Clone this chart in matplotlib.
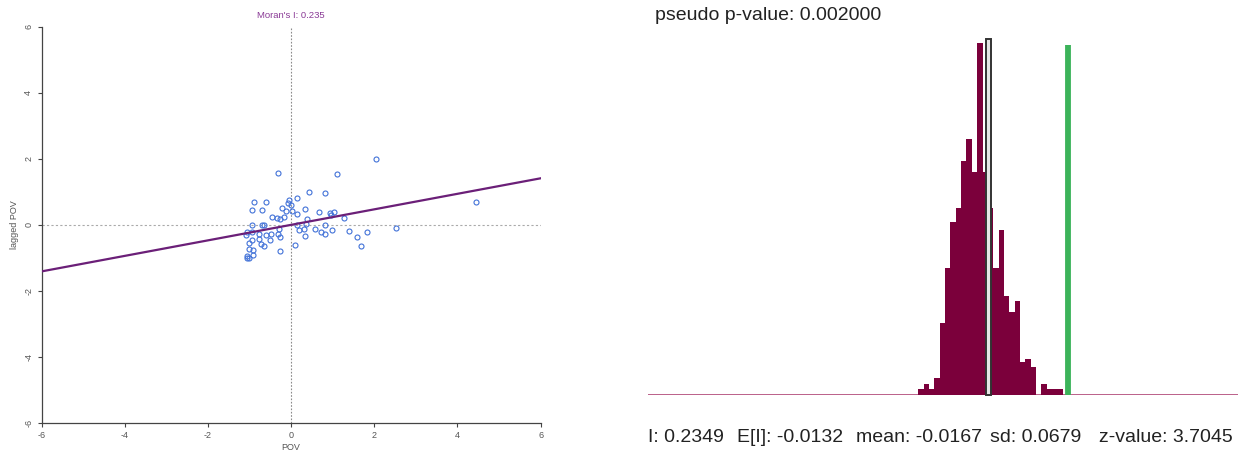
import numpy as np
import matplotlib
matplotlib.use("Agg")
import matplotlib.pyplot as plt
from matplotlib.patches import Rectangle

plt.rcParams['font.family'] = ['Liberation Sans', 'DejaVu Sans']

# ---------------- Data: Moran scatter ----------------
pov = [2.05, -0.32, 1.11, 0.43, 0.81, -0.88, -0.61, -0.05, 0.14, -0.07,
       -0.01, -0.94, -0.70, -0.21, -0.13, 0.02, 0.33, 0.66, 0.93, 1.03,
       0.96, 0.15, -0.47, -0.34, -0.26, -0.17, 0.39, 1.26, -0.93, -0.69,
       -0.64, 0.15, 0.36, 0.81, 2.52, -1.07, -0.94, -0.78, -0.61, -0.49,
       -0.31, -0.29, -0.26, 0.20, 0.30, 0.58, 0.71, 0.81, 0.99, 1.40,
       1.82, 1.58, 0.34, -1.09, -0.76, -0.51, -0.93, -1.01, -0.73, -0.64,
       0.09, -0.27, 1.67, -1.01, -0.91, -0.91, -1.07, -1.07, -1.01, 4.45]
lagged_pov = [1.99, 1.57, 1.53, 0.99, 0.97, 0.68, 0.68, 0.75, 0.82, 0.67,
              0.59, 0.44, 0.45, 0.51, 0.42, 0.43, 0.49, 0.39, 0.36, 0.39,
              0.29, 0.34, 0.25, 0.22, 0.18, 0.23, 0.18, 0.21, 0.00, 0.01,
              0.01, 0.01, 0.03, 0.00, -0.09, -0.23, -0.22, -0.28, -0.30, -0.29,
              -0.28, -0.12, -0.37, -0.17, -0.12, -0.13, -0.22, -0.29, -0.15, -0.18,
              -0.22, -0.36, -0.34, -0.31, -0.42, -0.46, -0.46, -0.54, -0.57, -0.63,
              -0.61, -0.78, -0.65, -0.72, -0.75, -0.90, -0.94, -0.99, -1.00, 0.69]
morans_i = 0.235
axis_ticks = [-6, -4, -2, 0, 2, 4, 6]

# ---------------- Data: permutation histogram ----------------
bin_start = -0.2317
bin_width = 0.0167
perm_counts = [2, 4, 2, 6, 26, 46, 63, 68, 85, 93, 81, 128, 81, 68, 46, 60,
               36, 30, 34, 12, 13, 10, 0, 4, 2, 2, 2]
observed_I = 0.2349
expected_I = -0.0132
perm_mean = -0.0167
perm_sd = 0.0679
z_value = 3.7045
pseudo_p = 0.002

fig = plt.figure(figsize=(12.38, 4.51), dpi=100)

# ---------------- Left panel ----------------
ax = fig.add_axes([41.5 / 1238, 28 / 451, 499.2 / 1238, 396.3 / 451])
ax.set_xlim(-6, 6)
ax.set_ylim(-6, 6)
ax.axvline(0, color='#8a8a8a', lw=0.8, ls=(0, (1.5, 1.5)), zorder=1)
ax.axhline(0, color='#aaaaaa', lw=0.8, ls=(0, (2, 2)), zorder=1)
ax.plot(pov, lagged_pov, ls='none', marker='o', ms=3.6, mfc='none',
        mec='#4272d8', mew=0.8, zorder=3)
xs = np.array([-6, 6])
ax.plot(xs, morans_i * xs, color='#6b1f78', lw=1.6, zorder=4)
for s in ['top', 'right']:
    ax.spines[s].set_visible(False)
for s in ['left', 'bottom']:
    ax.spines[s].set_color('#444444')
    ax.spines[s].set_linewidth(0.9)
ax.set_xticks(axis_ticks)
ax.set_yticks(axis_ticks)
ax.set_xticklabels([str(t) for t in axis_ticks])
ax.set_yticklabels([str(t) for t in axis_ticks], rotation=90, va='center')
ax.tick_params(axis='both', length=3, width=0.8, color='#444444',
               labelsize=6.5, labelcolor='#555555', pad=3)
ax.set_xlabel('POV', fontsize=6.5, color='#555555', labelpad=2)
ax.set_ylabel('lagged POV', fontsize=6.5, color='#555555', labelpad=4)
ax.set_title("Moran's I: %.3f" % morans_i, fontsize=6.8, color='#8a3a96', pad=6)

# ---------------- Right panel ----------------
px_per_unit = 320.4
x_left = expected_I - (988.3 - 648) / px_per_unit
x_right = expected_I + (1238 - 988.3) / px_per_unit
ax2 = fig.add_axes([648 / 1238, (451 - 394.5) / 451, 590 / 1238, 353.5 / 451])
ymax = max(perm_counts) * 353.5 / 351.2
ax2.set_xlim(x_left, x_right)
ax2.set_ylim(0, ymax)
ax2.axis('off')
ax2.axhline(0, color='#b4527f', lw=2.0, zorder=1)
lefts = bin_start + bin_width * np.arange(len(perm_counts))
ax2.bar(lefts, perm_counts, width=bin_width, align='edge', color='#7b003b',
        edgecolor='none', zorder=2)
rect_w = 0.0147
ax2.add_patch(Rectangle((expected_I - rect_w / 2, 0), rect_w, ymax * 1.005,
                        facecolor='#e6e6e6', edgecolor='#333333', lw=1.4,
                        zorder=3, clip_on=False))
ax2.plot([observed_I, observed_I], [0, ymax * 0.99], color='#3cb35a',
         lw=4.2, solid_capstyle='butt', zorder=3)

txt_kw = dict(fontsize=14, color='#222222', va='center', ha='left')
fig.text(655 / 1238, 1 - 16 / 451, 'pseudo p-value: %.6f' % pseudo_p, **txt_kw)
yb = 1 - 438 / 451
fig.text(648 / 1238, yb, 'I: %.4f' % observed_I, **txt_kw)
fig.text(737 / 1238, yb, 'E[I]: %.4f' % expected_I, **txt_kw)
fig.text(856 / 1238, yb, 'mean: %.4f' % perm_mean, **txt_kw)
fig.text(990 / 1238, yb, 'sd: %.4f' % perm_sd, **txt_kw)
fig.text(1099 / 1238, yb, 'z-value: %.4f' % z_value, **txt_kw)

fig.savefig('out.png', dpi=100, facecolor='white')
